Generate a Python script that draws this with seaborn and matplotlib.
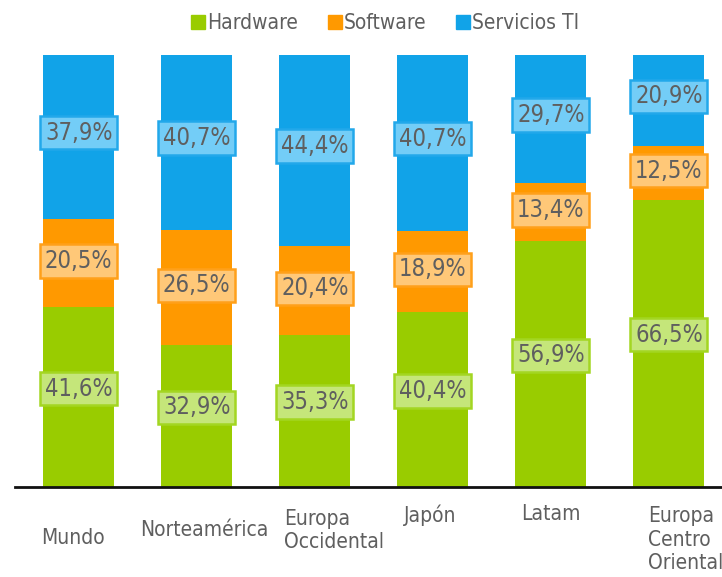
import numpy as np
import pandas as pd
import seaborn as sns
import matplotlib.pyplot as plt
from matplotlib.lines import Line2D

# data
regions = ['Mundo', 'Norteamérica', 'Europa\nOccidental', 'Japón', 'Latam', 'Europa\nCentro\nOriental']
hardware = [41.6, 32.9, 35.3, 40.4, 56.9, 66.5]
software = [20.5, 26.5, 20.4, 18.9, 13.4, 12.5]
servicios = [37.9, 40.7, 44.4, 40.7, 29.7, 20.9]
series = ['Hardware', 'Software', 'Servicios TI']

colors = ['#99CC00', '#FF9900', '#11A3E8']
box_fill = ['#C5E67A', '#FFC878', '#73CDF7']
box_edge = ['#A3D622', '#FFA01A', '#22A8EA']
text_col = '#5F5F5F'

sns.set_theme(style='white')
plt.rcParams['font.family'] = ['DejaVu Sans']
plt.rcParams['font.stretch'] = 'condensed'

df = pd.DataFrame({'region': regions, 'Hardware': hardware,
                   'Software': software, 'Servicios TI': servicios})
df['hw_sw'] = df['Hardware'] + df['Software']
df['total'] = df['hw_sw'] + df['Servicios TI']

fig = plt.figure(figsize=(7.22, 5.77), dpi=100)
ax = fig.add_axes([15 / 722, 90 / 577, 707 / 722, 432 / 577])

# stacked bars drawn as overlapping cumulative totals
for col, c in zip(['total', 'hw_sw', 'Hardware'], colors[::-1]):
    sns.barplot(data=df, x='region', y=col, color=c, width=0.6,
                saturation=1, ax=ax, linewidth=0)

ax.set_ylim(0, 100)
ax.set_xlim(-0.54, 5.45)
for s in ['top', 'right', 'left']:
    ax.spines[s].set_visible(False)
ax.spines['bottom'].set_color('#111111')
ax.spines['bottom'].set_linewidth(2)
ax.spines['bottom'].set_zorder(5)
ax.set_yticks([])
ax.set_xlabel('')
ax.set_ylabel('')
ax.set_xticks([])

# segment labels
bottoms = [np.zeros(6), df['Hardware'].values, df['hw_sw'].values]
vals = [hardware, software, servicios]
shift = [2.0, 0.5, 1.0]
for k in range(3):
    for i in range(6):
        y = bottoms[k][i] + vals[k][i] / 2 + shift[k]
        ax.text(i, y, f'{vals[k][i]:.1f}%'.replace('.', ','), ha='center', va='center',
                fontsize=17, color=text_col, zorder=6,
                bbox=dict(boxstyle='square,pad=0.2', fc=box_fill[k], ec=box_edge[k], lw=1.8))

# category labels with their uneven placement
lab_dx = [-0.05, 0.06, -0.26, -0.02, 0.0, -0.18]
lab_y = [-0.118, -0.10, -0.05, -0.04, -0.04, -0.045]
lab_ha = ['center', 'center', 'left', 'center', 'center', 'left']
for i, name in enumerate(regions):
    ax.text(i + lab_dx[i], lab_y[i], name, transform=ax.get_xaxis_transform(),
            ha=lab_ha[i], va='center' if i < 2 else 'top', fontsize=15, color=text_col,
            linespacing=1.2, clip_on=False)

# legend
handles = [Line2D([], [], marker='s', ls='', markersize=10, color=c) for c in colors]
leg = fig.legend(handles, series, loc='upper center', bbox_to_anchor=(0.532, 1.01),
                 ncol=3, frameon=False, fontsize=15, handletextpad=0.0,
                 columnspacing=1.3, handlelength=0.9)
for t in leg.get_texts():
    t.set_color(text_col)

fig.savefig('out.png', dpi=100)
